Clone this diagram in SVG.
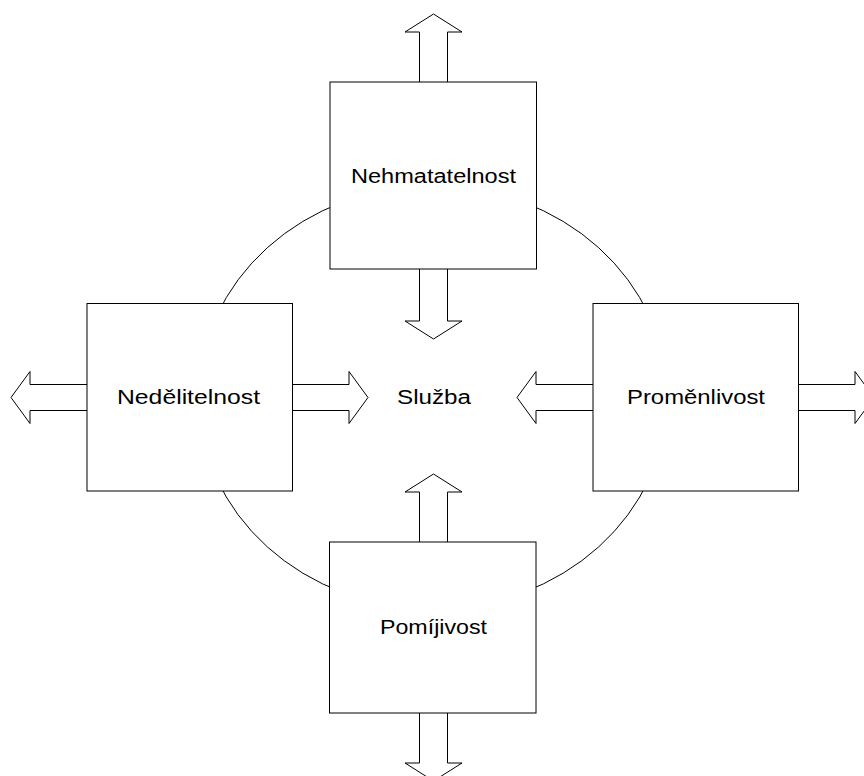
<svg xmlns="http://www.w3.org/2000/svg" width="864" height="776" viewBox="0 0 864 776">
  <style>
    .ring { fill: none; stroke: #000; stroke-width: 1; }
    .box { fill: #fff; stroke: #000; stroke-width: 1; }
    .arrow { fill: #fff; stroke: #000; stroke-width: 1; stroke-linejoin: miter; }
    .label { font-family: "Liberation Sans", Arial, sans-serif; font-size: 20px; fill: #000; text-anchor: middle; }
  </style>
  <rect width="864" height="776" fill="#fff"/>

  <!-- ring linking the four properties -->
  <ellipse id="ring" class="ring" cx="433" cy="397.3" rx="234.4" ry="211.5"/>

  <g id="connectors">
    <!-- vertical block arrows -->
    <path class="arrow" d="M419.5,82 V32 H405 L433.5,14 L462,32 H447.5 V82"/>
    <path class="arrow" d="M419.5,269 V321 H405 L433.5,339 L462,321 H447.5 V269"/>
    <path class="arrow" d="M419.5,542 V492 H405 L433.5,474 L462,492 H447.5 V542"/>
    <path class="arrow" d="M419.5,713 V763 H405 L433.5,781 L462,763 H447.5 V713"/>
    <!-- horizontal block arrows -->
    <path class="arrow" d="M87,384.5 H30 V371.5 L11,397.5 L30,423.5 V410.5 H87"/>
    <path class="arrow" d="M292.5,384.5 H349 V371.5 L368,397.5 L349,423.5 V410.5 H292.5"/>
    <path class="arrow" d="M593,384.5 H536 V371.5 L517,397.5 L536,423.5 V410.5 H593"/>
    <path class="arrow" d="M798,384.5 H855 V371.5 L874,397.5 L855,423.5 V410.5 H798"/>
  </g>

  <g id="nehmatatelnost">
    <rect class="box" x="330" y="82" width="206.5" height="187"/>
    <text class="label" x="433.5" y="182.5" textLength="165" lengthAdjust="spacingAndGlyphs">Nehmatatelnost</text>
  </g>
  <g id="nedelitelnost">
    <rect class="box" x="87" y="303.5" width="205.5" height="187.5"/>
    <text class="label" x="188.5" y="404" textLength="143" lengthAdjust="spacingAndGlyphs">Nedělitelnost</text>
  </g>
  <g id="promenlivost">
    <rect class="box" x="593" y="303.5" width="205.5" height="187.5"/>
    <text class="label" x="696" y="404" textLength="138" lengthAdjust="spacingAndGlyphs">Proměnlivost</text>
  </g>
  <g id="pomijivost">
    <rect class="box" x="329.5" y="542" width="206.5" height="171"/>
    <text class="label" x="433.5" y="634" textLength="107" lengthAdjust="spacingAndGlyphs">Pomíjivost</text>
  </g>
  <g id="sluzba">
    <text class="label" x="434" y="404" textLength="74" lengthAdjust="spacingAndGlyphs">Služba</text>
  </g>
</svg>
